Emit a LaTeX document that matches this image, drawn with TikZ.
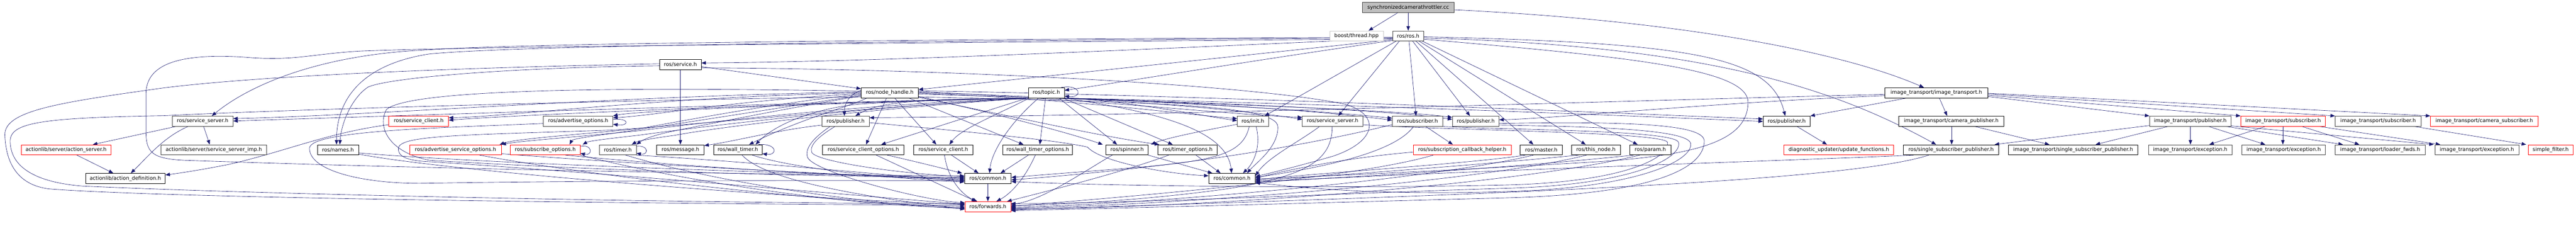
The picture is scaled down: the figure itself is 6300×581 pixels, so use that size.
\documentclass[tikz,border=0pt]{standalone}
\usepackage{fontspec}
\setmainfont{DejaVu Sans}
\usetikzlibrary{arrows.meta}
\definecolor{edgec}{HTML}{191970}
\definecolor{gbord}{HTML}{404040}
\definecolor{rbord}{HTML}{FF0000}
\definecolor{ccfill}{HTML}{BFBFBF}
\definecolor{ltgray}{HTML}{C8C8C8}
\pgfdeclarelayer{bg}
\pgfsetlayers{bg,main}
\newcommand{\nfont}{\fontsize{12.6}{15}\selectfont}
\tikzset{
 nbox/.style={draw=black, line width=0.9pt, minimum height=25pt, inner sep=0pt, font=\nfont, fill=white},
 gb/.style={nbox, draw=gbord},
 rb/.style={nbox, draw=rbord},
 ed/.style={draw=edgec, line width=0.8pt, -{Triangle[length=11pt,width=8.5pt]}},
}
\begin{document}
\begin{tikzpicture}[x=1pt,y=-1pt]
\useasboundingbox (0,0) rectangle (6300,581);
% row 0-3
\node[gb,minimum width=224pt,fill=ccfill] (cc) at (3444,18.5) {synchronizedcamerathrottler.cc};
\node[nbox,draw=ltgray,minimum width=131pt] (bt) at (3317.5,88) {boost/thread.hpp};
\node[gb,minimum width=76pt] (ros) at (3444,88) {ros/ros.h};
\node[nbox,minimum width=102pt] (srv) at (1664,157.5) {ros/service.h};
\node[nbox,minimum width=140pt] (nh) at (2176,227) {ros/node\_handle.h};
\node[nbox,minimum width=88pt] (topic) at (2559,227) {ros/topic.h};
\node[nbox,minimum width=251pt] (itr) at (4735.5,227) {image\_transport/image\_transport.h};
% row 4
\node[gb,minimum width=149pt] (ssL) at (495.5,296.5) {ros/service\_server.h};
\node[rb,minimum width=146pt] (scR) at (1024,296.5) {ros/service\_client.h};
\node[gb,minimum width=170pt] (ado) at (1414,296.5) {ros/advertise\_options.h};
\node[gb,minimum width=116pt] (pubA) at (2068,296.5) {ros/publisher.h};
\node[gb,minimum width=76pt] (init) at (3064,296.5) {ros/init.h};
\node[gb,minimum width=148pt] (ssM) at (3259,296.5) {ros/service\_server.h};
\node[gb,minimum width=123pt] (sub) at (3466.5,296.5) {ros/subscriber.h};
\node[gb,minimum width=114pt] (pubB) at (3609,296.5) {ros/publisher.h};
\node[nbox,minimum width=115pt] (pubC) at (4369.5,296.5) {ros/publisher.h};
\node[nbox,minimum width=258pt] (campub) at (4772,296.5) {image\_transport/camera\_publisher.h};
\node[gb,minimum width=199pt] (itpub) at (5356.5,296.5) {image\_transport/publisher.h};
\node[rb,minimum width=207pt] (itsubR) at (5583.5,296.5) {image\_transport/subscriber.h};
\node[gb,minimum width=210pt] (itsub) at (5816,296.5) {image\_transport/subscriber.h};
\node[rb,minimum width=263pt] (camsub) at (6075.5,296.5) {image\_transport/camera\_subscriber.h};
% row 5
\node[rb,minimum width=219pt] (asrv) at (161.5,366.5) {actionlib/server/action\_server.h};
\node[gb,minimum width=258pt] (ssimp) at (523,366.5) {actionlib/server/service\_server\_imp.h};
\node[nbox,minimum width=101pt] (names) at (826.5,366.5) {ros/names.h};
\node[rb,minimum width=224pt] (aso) at (1114,366.5) {ros/advertise\_service\_options.h};
\node[rb,minimum width=171pt] (subo) at (1333.5,366.5) {ros/subscribe\_options.h};
\node[gb,minimum width=90pt] (timer) at (1511,366.5) {ros/timer.h};
\node[nbox,minimum width=116pt] (msg) at (1664,366.5) {ros/message.h};
\node[nbox,minimum width=119pt] (wt) at (1804.5,366.5) {ros/wall\_timer.h};
\node[nbox,minimum width=199pt] (sco) at (2111.5,366.5) {ros/service\_client\_options.h};
\node[nbox,minimum width=144pt] (sc) at (2307,366.5) {ros/service\_client.h};
\node[nbox,minimum width=170pt] (wto) at (2538,366.5) {ros/wall\_timer\_options.h};
\node[nbox,minimum width=103pt] (spin) at (2756.5,366.5) {ros/spinner.h};
\node[nbox,minimum width=145pt] (tmo) at (2904.5,366.5) {ros/timer\_options.h};
\node[rb,minimum width=240pt] (sch) at (3576,366.5) {ros/subscription\_callback\_helper.h};
\node[nbox,minimum width=103pt] (master) at (3769.5,366.5) {ros/master.h};
\node[nbox,minimum width=120pt] (thisn) at (3903,366.5) {ros/this\_node.h};
\node[nbox,minimum width=100pt] (param) at (4036,366.5) {ros/param.h};
\node[rb,minimum width=268pt] (duf) at (4497,366.5) {diagnostic\_updater/update\_functions.h};
\node[nbox,minimum width=233pt] (rssp) at (4771.5,366.5) {ros/single\_subscriber\_publisher.h};
\node[nbox,minimum width=316pt] (itssp) at (5070,366.5) {image\_transport/single\_subscriber\_publisher.h};
\node[gb,minimum width=205pt] (exc1) at (5356.5,366.5) {image\_transport/exception.h};
\node[gb,minimum width=204pt] (exc2) at (5585,366.5) {image\_transport/exception.h};
\node[gb,minimum width=220pt] (lf) at (5821,366.5) {image\_transport/loader\_fwds.h};
\node[gb,minimum width=205pt] (exc3) at (6057.5,366.5) {image\_transport/exception.h};
\node[rb,minimum width=110pt] (sf) at (6238,366.5) {simple\_filter.h};
% row 6-7
\node[nbox,minimum width=195pt] (adef) at (306.5,436.5) {actionlib/action\_definition.h};
\node[nbox,minimum width=114pt] (com1) at (2416,436.5) {ros/common.h};
\node[nbox,minimum width=114pt] (com2) at (3013,436.5) {ros/common.h};
\node[rb,minimum width=112pt] (fwd) at (2416,505.5) {ros/forwards.h};

\begin{pgfonlayer}{bg}
\fill[white] (0,0) rectangle (6300,581);
% top
\draw[ed] (3418,0 |- cc.south) -- (3347,0 |- bt.north);
\draw[ed] (cc.south) -- (ros.north);
\draw[ed] (cc.east |- 0,24) .. controls (4100,50) and (4500,125) .. (4705,0 |- itr.north);
% ros downwards
\draw[ed] (3414,0 |- ros.south) -- (3093,0 |- init.north);
\draw[ed] (3422,0 |- ros.south) -- (3273,0 |- ssM.north);
\draw[ed] (3446,0 |- ros.south) -- (3463,0 |- sub.north);
\draw[ed] (3455,0 |- ros.south) -- (3595,0 |- pubB.north);
\draw[ed] (3463,0 |- ros.south) -- (3750,0 |- master.north);
\draw[ed] (3471,0 |- ros.south) -- (3878,0 |- thisn.north);
\draw[ed] (3479,0 |- ros.south) -- (4005,0 |- param.north);
% ros to the right
\draw[ed] (ros.east |- 0,90) .. controls (4150,105) and (4330,140) .. (4366,0 |- pubC.north);
\draw[ed] (ros.east |- 0,93) .. controls (4200,112) and (4500,225) .. (4735,0 |- rssp.north);
\draw[ed] (ros.east |- 0,96) .. controls (4000,140) and (4275,170) .. (4275,250) .. controls (4275,345) and (4150,380) .. (3900,396) .. controls (3500,420) and (3200,432) .. (com2.east |- 0,438);
% ros to the left
\draw[ed] (ros.west |- 0,94) .. controls (2800,120) and (2200,150) .. (srv.east |- 0,154);
\draw[ed] (ros.west |- 0,97) .. controls (3000,140) and (2600,182) .. (nh.east |- 0,219);
\draw[ed] (ros.west |- 0,99) .. controls (3050,150) and (2750,200) .. (topic.east |- 0,221);
\draw[ed] (2595,0 |- topic.north) .. controls (2645,205) and (2648,240) .. (topic.east |- 0,235);
\draw[ed] (ros.west |- 0,92) .. controls (2400,100) and (1300,108) .. (1050,132) .. controls (900,155) and (823,230) .. (823,0 |- names.north);
\draw[ed] (ros.west |- 0,91) .. controls (2400,96) and (1300,104) .. (1048,122) .. controls (800,132) and (620,200) .. (518,0 |- ssL.north);
\draw[ed] (ros.west |- 0,95) .. controls (2400,104) and (1200,112) .. (880,125) .. controls (760,132) and (720,150) .. (600,140) .. controls (420,128) and (357,165) .. (357,230) -- (357,320) .. controls (357,372) and (370,388) .. (450,392) .. controls (1200,418) and (2000,428) .. (com1.west |- 0,430);
% service.h
\draw[ed] (srv.east |- 0,163) -- (nh.west |- 0,217);
\draw[ed] (srv.south) -- (msg.north);
\draw[ed] (srv.west |- 0,161) .. controls (1250,165) and (950,190) .. (900,213) .. controls (860,240) and (835,300) .. (831,0 |- names.north);
\draw[ed] (srv.west |- 0,156) .. controls (1000,168) and (600,190) .. (400,215) .. controls (150,250) and (10,270) .. (12,330) .. controls (14,395) and (40,452) .. (120,462) .. controls (400,484) and (1500,498) .. (fwd.west |- 0,502);
\draw[ed] (srv.east |- 0,166) .. controls (2300,168) and (3050,205) .. (3290,255) .. controls (3375,280) and (3370,345) .. (3260,382) .. controls (3180,405) and (3120,420) .. (com2.east |- 0,432);
% node_handle / topic -> publisher A
\draw[ed] (nh.west |- 0,221) .. controls (2075,232) and (2065,255) .. (2065,0 |- pubA.north);
\draw[ed] (2515,0 |- topic.south) .. controls (2300,243) and (2160,243) .. (2092,0 |- pubA.north);
\draw[ed] (itr.west |- 0,231) .. controls (4000,245) and (3000,280) .. (pubA.east |- 0,288);
\draw[ed] (itr.west |- 0,234) .. controls (4200,250) and (3800,290) .. (pubB.east |- 0,293);
% node_handle / topic to the left
\draw[ed] (nh.west |- 0,225) .. controls (1500,235) and (900,283) .. (ssL.east |- 0,290);
\draw[ed] (2515,0 |- topic.south) .. controls (2200,244) and (1000,282) .. (ssL.east |- 0,296);
\draw[ed] (nh.west |- 0,227) .. controls (1600,238) and (1250,285) .. (scR.east |- 0,288);
\draw[ed] (2515,0 |- topic.south) .. controls (2150,246) and (1300,278) .. (scR.east |- 0,294);
\draw[ed] (nh.west |- 0,229) .. controls (1800,245) and (1600,283) .. (ado.east |- 0,288);
\draw[ed] (2515,0 |- topic.south) .. controls (2100,250) and (1560,270) .. (ado.north east);
\draw[ed] (ado.east |- 0,292) .. controls (1540,288) and (1540,309) .. (ado.east |- 0,304);
\draw[ed] (nh.west |- 0,231) .. controls (1900,250) and (1650,300) .. (1560,315) .. controls (1400,330) and (1260,340) .. (1222,0 |- aso.north);
\draw[ed] (2515,0 |- topic.south) .. controls (2100,255) and (1700,302) .. (1570,319) .. controls (1400,336) and (1270,345) .. (aso.north east);
\draw[ed] (nh.west |- 0,233) .. controls (1900,265) and (1600,312) .. (1500,326) .. controls (1440,334) and (1400,340) .. (1393,0 |- subo.north);
\draw[ed] (2515,0 |- topic.south) .. controls (2100,262) and (1700,312) .. (1560,331) .. controls (1480,340) and (1440,345) .. (1425,0 |- subo.north);
\draw[ed] (subo.east |- 0,358) .. controls (1450,352) and (1450,382) .. (subo.east |- 0,375);
\draw[ed] (nh.west |- 0,235) .. controls (1950,260) and (1750,300) .. (1650,320) .. controls (1600,330) and (1575,340) .. (timer.north east);
\draw[ed] (2515,0 |- topic.south) .. controls (2100,268) and (1750,312) .. (1650,331) .. controls (1590,339) and (1560,345) .. (1545,0 |- timer.north);
\draw[ed] (timer.east |- 0,358) .. controls (1587,354) and (1587,380) .. (timer.east |- 0,375);
\draw[ed] (2120,0 |- nh.south) .. controls (2080,260) and (1960,290) .. (1832,0 |- wt.north);
\draw[ed] (2515,0 |- topic.south) .. controls (2300,245) and (2200,248) .. (2098,255) .. controls (2000,265) and (1900,300) .. (1848,0 |- wt.north);
\draw[ed] (1855,0 |- wt.north) .. controls (1902,350) and (1902,381) .. (wt.east |- 0,376);
% node_handle / topic downward
\draw[ed] (2168,0 |- nh.south) -- (2118,0 |- sco.north);
\draw[ed] (2512,0 |- topic.south) -- (2155,0 |- sco.north);
\draw[ed] (2188,0 |- nh.south) -- (2290,0 |- sc.north);
\draw[ed] (2517,0 |- topic.south) .. controls (2440,280) and (2350,315) .. (2322,0 |- sc.north);
\draw[ed] (2223,0 |- nh.south) -- (2503,0 |- wto.north);
\draw[ed] (2557,0 |- topic.south) -- (2543,0 |- wto.north);
\draw[ed] (2540,0 |- topic.south) .. controls (2470,300) and (2425,370) .. (2420,0 |- com1.north);
\draw[ed] (nh.west |- 0,223) .. controls (1500,212) and (1000,218) .. (945,268) .. controls (922,310) and (950,372) .. (1050,392) .. controls (1600,425) and (2100,432) .. (com1.west |- 0,434);
\draw[ed] (nh.west |- 0,237) .. controls (1500,245) and (700,268) .. (400,283) .. controls (100,288) and (25,300) .. (25,345) .. controls (25,405) and (80,445) .. (200,455) .. controls (700,478) and (1800,498) .. (fwd.west |- 0,498);
\draw[ed] (2515,0 |- topic.south) .. controls (2150,260) and (1700,305) .. (1500,318) .. controls (1150,330) and (985,330) .. (975,360) .. controls (970,385) and (1000,394) .. (1060,396) .. controls (1600,432) and (2100,480) .. (fwd.west |- 0,499);
\draw[ed] (nh.east |- 0,236) .. controls (2400,270) and (2600,320) .. (2697,0 |- spin.north);
\draw[ed] (2590,0 |- topic.south) -- (2732,0 |- spin.north);
\draw[ed] (2600,0 |- topic.south) -- (2868,0 |- tmo.north);
\draw[ed] (nh.east |- 0,238) .. controls (2500,290) and (2700,335) .. (2835,0 |- tmo.north);
\draw[ed] (nh.east |- 0,228) .. controls (2600,240) and (2900,280) .. (init.west |- 0,290);
\draw[ed] (topic.south east) .. controls (2750,245) and (2950,285) .. (init.west |- 0,295);
\draw[ed] (topic.south east) .. controls (2800,270) and (3000,310) .. (3012,0 |- com2.north);
\draw[ed] (nh.east |- 0,237) .. controls (2800,250) and (3125,255) .. (3125,310) .. controls (3127,360) and (3070,400) .. (3050,0 |- com2.north);
\draw[ed] (nh.east |- 0,224) .. controls (2700,245) and (3000,280) .. (ssM.west |- 0,287);
\draw[ed] (topic.south east) .. controls (2800,250) and (3050,270) .. (ssM.west |- 0,292);
\draw[ed] (nh.east |- 0,226) .. controls (2800,245) and (3200,268) .. (sub.west |- 0,289);
\draw[ed] (topic.south east) .. controls (2900,250) and (3200,268) .. (sub.west |- 0,294);
\draw[ed] (nh.east |- 0,230) .. controls (2900,250) and (3400,268) .. (pubB.west |- 0,287);
\draw[ed] (topic.south east) .. controls (3000,252) and (3400,270) .. (pubB.west |- 0,292);
\draw[ed] (nh.east |- 0,222) .. controls (3000,235) and (3900,275) .. (pubC.west |- 0,291);
\draw[ed] (topic.south east) .. controls (3300,255) and (3950,282) .. (pubC.west |- 0,297);
% actionlib part
\draw[ed] (430,0 |- ssL.south) -- (227,0 |- asrv.north);
\draw[ed] (498,0 |- ssL.south) -- (513,0 |- ssimp.north);
\draw[ed] (460,0 |- ssL.south) .. controls (400,335) and (360,385) .. (320,0 |- adef.north);
\draw[ed] (188,0 |- asrv.south) -- (277,0 |- adef.north);
\draw[ed] (scR.west |- 0,305) .. controls (800,325) and (700,370) .. (560,402) .. controls (500,414) and (450,422) .. (adef.east |- 0,428);
% row 5 left -> common / forwards
\draw[ed] (names.east |- 0,374) .. controls (1200,402) and (2000,425) .. (com1.west |- 0,436);
\draw[ed] (names.east |- 0,377) .. controls (1100,420) and (2000,490) .. (fwd.west |- 0,500);
\draw[ed] (ado.west |- 0,302) .. controls (1100,312) and (760,318) .. (757,362) .. controls (755,420) and (900,452) .. (1050,448) .. controls (1600,440) and (2100,442) .. (com1.west |- 0,442);
\draw[ed] (aso.east |- 0,376) .. controls (1600,405) and (2100,430) .. (com1.west |- 0,438);
\draw[ed] (1173,0 |- aso.south) .. controls (1500,440) and (2100,500) .. (fwd.west |- 0,506);
\draw[ed] (1383,0 |- subo.south) .. controls (1700,410) and (2100,432) .. (com1.west |- 0,440);
\draw[ed] (subo.south east) .. controls (1700,450) and (2100,505) .. (fwd.west |- 0,508);
\draw[ed] (timer.south east) .. controls (1900,400) and (2200,432) .. (com1.west |- 0,443);
\draw[ed] (1530,0 |- timer.south) .. controls (1800,460) and (2200,505) .. (fwd.west |- 0,510);
\draw[ed] (1840,0 |- wt.south) .. controls (1950,415) and (2200,438) .. (com1.west |- 0,445);
\draw[ed] (1815,0 |- wt.south) .. controls (1870,440) and (2100,480) .. (fwd.west |- 0,512);
\draw[ed] (pubA.west |- 0,306) .. controls (1900,318) and (1800,345) .. (msg.east |- 0,356);
\draw[ed] (2042,0 |- pubA.south) .. controls (2000,335) and (1980,355) .. (1985,372) .. controls (1992,395) and (2200,425) .. (com1.west |- 0,432);
\draw[ed] (2030,0 |- pubA.south) .. controls (1985,340) and (1968,365) .. (1975,385) .. controls (1990,420) and (2250,490) .. (fwd.west |- 0,496);
\draw[ed] (pubA.east |- 0,300) .. controls (2400,325) and (2600,345) .. (2660,360) .. controls (2690,395) and (2850,425) .. (com2.west |- 0,430);
\draw[ed] (2170,0 |- sco.south) .. controls (2260,400) and (2330,418) .. (2353,0 |- com1.north);
\draw[ed] (2143,0 |- sco.south) -- (2387,0 |- fwd.north);
\draw[ed] (2327,0 |- sc.south) -- (2393,0 |- com1.north);
\draw[ed] (2310,0 |- sc.south) .. controls (2318,440) and (2355,478) .. (2390,0 |- fwd.north);
\draw[ed] (2515,0 |- wto.south) -- (2447,0 |- com1.north);
\draw[ed] (2532,0 |- wto.south) .. controls (2505,440) and (2470,475) .. (2437,0 |- fwd.north);
\draw[ed] (com1.south) -- (fwd.north);
% row 5 right -> common / forwards
\draw[ed] (2808,0 |- spin.south) -- (2965,0 |- com2.north);
\draw[ed] (2720,0 |- spin.south) .. controls (2650,420) and (2550,490) .. (fwd.east |- 0,500);
\draw[ed] (2925,0 |- tmo.south) -- (2985,0 |- com2.north);
\draw[ed] (2858,0 |- tmo.south) .. controls (2750,420) and (2560,468) .. (2463,0 |- fwd.north);
\draw[ed] (init.west |- 0,304) .. controls (2950,318) and (2850,338) .. (2815,0 |- spin.north);
\draw[ed] (3055,0 |- init.south) .. controls (3035,405) and (2900,398) .. (com1.east |- 0,434);
\draw[ed] (3072,0 |- init.south) .. controls (3085,360) and (3065,400) .. (3040,0 |- com2.north);
\draw[ed] (3227,0 |- ssM.south) .. controls (3180,345) and (3100,385) .. (com2.east |- 0,430);
\draw[ed] (3258,0 |- ssM.south) .. controls (3258,390) and (3200,430) .. (3000,462) .. controls (2800,490) and (2600,500) .. (fwd.east |- 0,503);
\draw[ed] (3457,0 |- sub.south) .. controls (3420,360) and (3300,400) .. (com2.east |- 0,434);
\draw[ed] (sub.west |- 0,305) .. controls (3300,330) and (3000,400) .. (com1.east |- 0,440);
\draw[ed] (3487,0 |- sub.south) -- (3553,0 |- sch.north);
\draw[ed] (sch.west |- 0,372) .. controls (3300,385) and (3150,415) .. (com2.east |- 0,436);
\draw[ed] (3505,0 |- sch.south) .. controls (3300,440) and (2700,485) .. (fwd.east |- 0,505);
\draw[ed] (3730,0 |- master.south) .. controls (3600,400) and (3200,425) .. (com2.east |- 0,440);
\draw[ed] (3750,0 |- master.south) .. controls (3500,440) and (2800,500) .. (fwd.east |- 0,507);
\draw[ed] (3860,0 |- thisn.south) .. controls (3600,405) and (3250,430) .. (com2.east |- 0,442);
\draw[ed] (3880,0 |- thisn.south) .. controls (3600,450) and (2800,505) .. (fwd.east |- 0,509);
\draw[ed] (3995,0 |- param.south) .. controls (3700,410) and (3300,435) .. (com2.east |- 0,444);
\draw[ed] (4010,0 |- param.south) .. controls (3700,455) and (2900,510) .. (fwd.east |- 0,511);
\draw[ed] (4680,0 |- rssp.south) .. controls (4400,392) and (3500,420) .. (com2.east |- 0,446);
\draw[ed] (4717,0 |- rssp.south) .. controls (4500,450) and (3500,480) .. (fwd.east |- 0,513);
% loops around the right
\draw[ed] (pubB.east |- 0,302) .. controls (4000,296) and (4168,305) .. (4168,345) .. controls (4168,410) and (4050,475) .. (3680,484) .. controls (3300,494) and (2800,508) .. (fwd.east |- 0,515);
\draw[ed] (pubB.east |- 0,306) .. controls (3950,310) and (4132,320) .. (4135,352) .. controls (4138,395) and (4000,458) .. (3700,468) .. controls (3350,480) and (3150,455) .. (com2.east |- 0,447);
\draw[ed] (sub.south east) .. controls (3700,318) and (4095,318) .. (4105,348) .. controls (4115,385) and (4000,450) .. (3700,460) .. controls (3300,472) and (2800,497) .. (fwd.east |- 0,498);
\draw[ed] (ssM.east |- 0,305) .. controls (3500,318) and (4070,322) .. (4078,348) .. controls (4085,378) and (4000,442) .. (3700,452) .. controls (3300,462) and (2700,455) .. (com1.east |- 0,444);
% diagnostic publisher
\draw[ed] (4395,0 |- pubC.south) -- (4468,0 |- duf.north);
\draw[ed] (4663,0 |- itr.south) -- (pubC.north east);
% image_transport part
\draw[ed] (4743,0 |- itr.south) -- (4762,0 |- campub.north);
\draw[ed] (itr.east |- 0,236) -- (itpub.north west);
\draw[ed] (itr.east |- 0,233) -- (itsubR.north west);
\draw[ed] (itr.east |- 0,230) -- (itsub.north west);
\draw[ed] (itr.east |- 0,228) -- (camsub.north west);
\draw[ed] (4773,0 |- campub.south) -- (4773,0 |- rssp.north);
\draw[ed] (4830,0 |- campub.south) -- (5012,0 |- itssp.north);
\draw[ed] (itpub.west |- 0,307) -- (4878,0 |- rssp.north);
\draw[ed] (5302,0 |- itpub.south) -- (5125,0 |- itssp.north);
\draw[ed] (5357,0 |- itpub.south) -- (5357,0 |- exc1.north);
\draw[ed] (5402,0 |- itpub.south) -- (5540,0 |- exc2.north);
\draw[ed] (5445,0 |- itpub.south) -- (5730,0 |- lf.north);
\draw[ed] (itpub.east |- 0,308) -- (5952,0 |- exc3.north);
\draw[ed] (5540,0 |- itsubR.south) -- (5403,0 |- exc1.north);
\draw[ed] (5583,0 |- itsubR.south) -- (5583,0 |- exc2.north);
\draw[ed] (5630,0 |- itsubR.south) -- (5770,0 |- lf.north);
\draw[ed] (5673,0 |- itsubR.south) -- (5968,0 |- exc3.north);
\draw[ed] (5905,0 |- itsub.south) -- (6178,0 |- sf.north);
\end{pgfonlayer}
\end{tikzpicture}
\end{document}
